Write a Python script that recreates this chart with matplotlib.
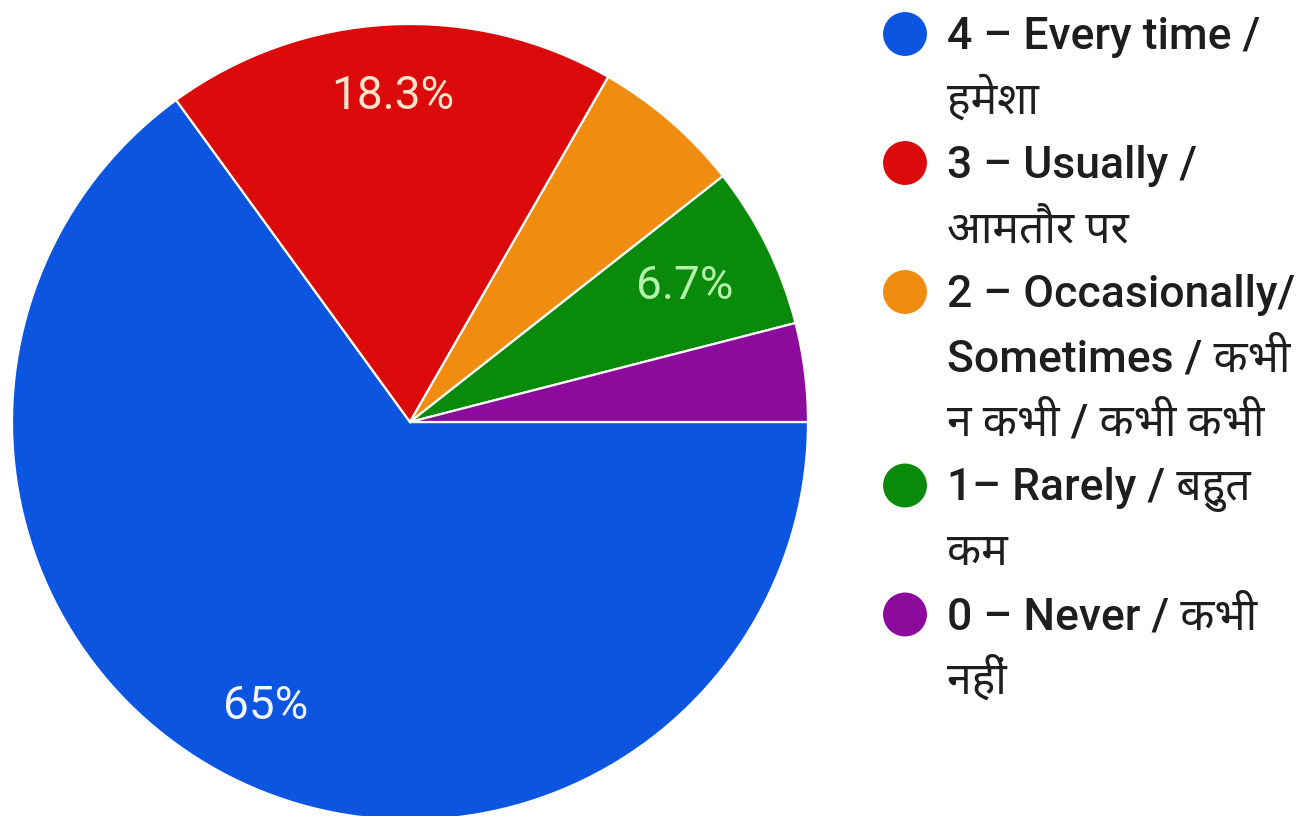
import math
import matplotlib
matplotlib.use('Agg')
import matplotlib.pyplot as plt
from matplotlib import font_manager
from matplotlib.ft2font import FT2Font

# Slice shares (percent)
labels = [
    '4 – Every time /\nहमेशा',
    '3 – Usually /\nआमतौर पर',
    '2 – Occasionally/\nSometimes / कभी\nन कभी / कभी कभी',
    '1– Rarely / बहुत\nकम',
    '0 – Never / कभी\nनहीं',
]
shares = [65.0, 18.3, 6.1, 6.6, 4.0]
pct_labels = ['65%', '18.3%', '', '6.7%', '']
colors = ['#0b55e0', '#dc0b0b', '#f08c0f', '#0a8a0a', '#8c0a9c']
pct_colors = ['#f2f5ff', '#ffe4cc', '#ffffff', '#b4f2ac', '#ffffff']


def find_deva_font():
    # installed fonts with Devanagari glyphs, skip bitmap-like unifont if possible
    found = []
    for f in font_manager.fontManager.ttflist:
        try:
            if 0x0939 in FT2Font(f.fname).get_charmap():
                found.append(f.name)
        except Exception:
            pass
    good = [n for n in found if 'unifont' not in n.lower()]
    for pref in ['Noto Sans Devanagari', 'Lohit Devanagari', 'Mukta', 'Hind',
                 'FreeSans', 'Kalimati', 'Gargi', 'Samanata', 'Sarai']:
        if pref in good:
            return pref
    if good:
        return good[0]
    return found[0] if found else None


families = ['Roboto']
deva = find_deva_font()
if deva:
    families.append(deva)
families.append('DejaVu Sans')
plt.rcParams['font.family'] = families

W, H = 1304, 816
cx, cy, R = 410, H - 422, 398
fig = plt.figure(figsize=(W / 100, H / 100), dpi=100)
ax = fig.add_axes([0, 0, 1, 1])

wedges, _ = ax.pie(
    shares, colors=colors, startangle=0, counterclock=False,
    center=(cx, cy), radius=R,
    wedgeprops=dict(edgecolor='white', linewidth=1.6))

# percent labels inside the slices
label_r = [0.8, 0.82, 0.8, 0.77, 0.8]
for w, txt, c, rf in zip(wedges, pct_labels, pct_colors, label_r):
    if not txt:
        continue
    mid = math.radians((w.theta1 + w.theta2) / 2)
    ax.text(cx + rf * R * math.cos(mid), cy + rf * R * math.sin(mid), txt,
            fontsize=33, color=c, ha='center', va='center')

ax.set_xlim(0, W)
ax.set_ylim(0, H)
ax.set_aspect('equal')
ax.axis('off')

# legend on the right
line_pitch = 64.5
y = 34
for lab, c in zip(labels, colors):
    ax.scatter([905], [H - y], s=1000, color=c, edgecolors='none', zorder=3)
    for i, line in enumerate(lab.split('\n')):
        ax.text(947, H - (y + 15 + i * line_pitch), line, fontsize=32,
                color='#1e1e1e', va='baseline', ha='left', fontweight='medium')
    y += line_pitch * len(lab.split('\n'))

fig.savefig('out.png', dpi=100, facecolor='white')
